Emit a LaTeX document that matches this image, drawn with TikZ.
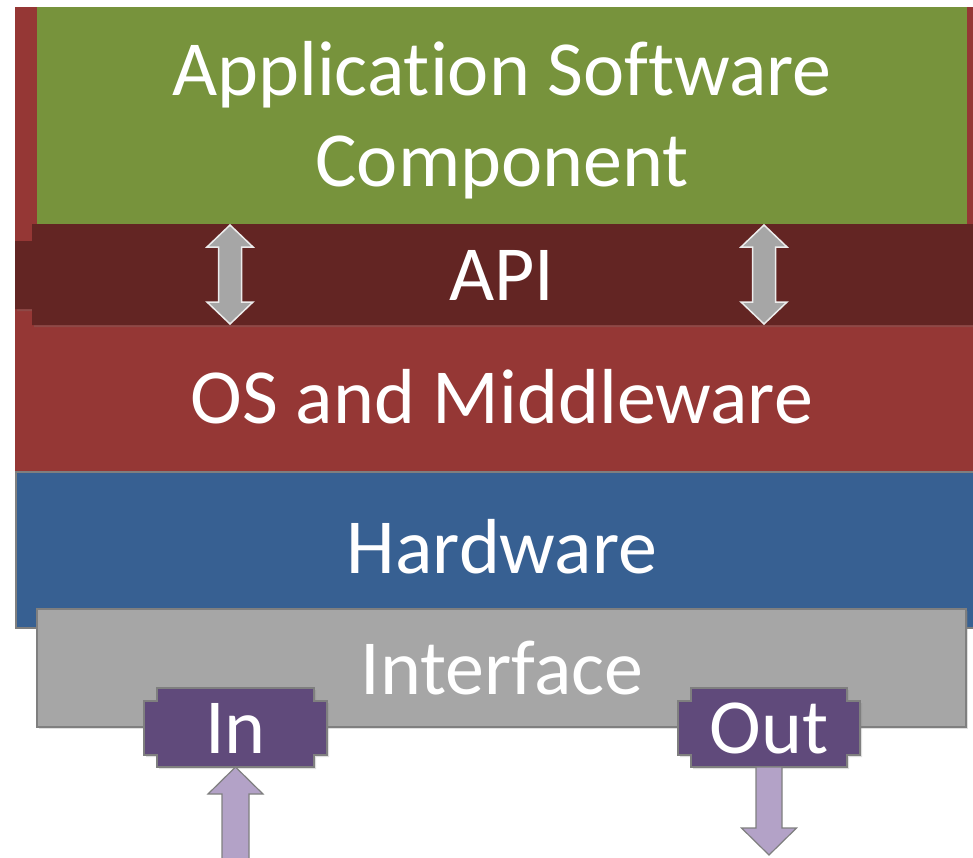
\documentclass[tikz,border=0pt]{standalone}
\usepackage{fontspec}
\setmainfont{Carlito}[Ligatures=NoCommon]
\usetikzlibrary{calc,shadows}
\definecolor{appgreen}{HTML}{77933C}
\definecolor{apired}{HTML}{632523}
\definecolor{osred}{HTML}{953735}
\definecolor{hwblue}{HTML}{376092}
\definecolor{ifgray}{HTML}{A6A6A6}
\definecolor{edgegray}{HTML}{7F7F7F}
\definecolor{iopurple}{HTML}{604A7B}
\definecolor{iolilac}{HTML}{B3A2C7}
\definecolor{apiarrow}{HTML}{A6A6A6}
\tikzset{
  layer/.style={rectangle, inner sep=0pt, outer sep=0pt},
  txt/.style={text=white, font=\fontsize{78}{91}\selectfont, inner sep=0pt, anchor=base, align=center},
  softshadow/.style={drop shadow={shadow xshift=2pt, shadow yshift=-2pt, opacity=.25}},
  iobox/.style={fill=iopurple, draw=edgegray, line width=1.2pt, softshadow},
  ioarrow/.style={fill=iolilac, draw=edgegray, line width=1.2pt},
  apiarr/.style={fill=apiarrow, draw=white!85!gray, line width=1.5pt},
}
\begin{document}
\begin{tikzpicture}[x=1pt,y=-1pt]
\useasboundingbox (0,0) rectangle (973,857);

% OS and middleware layer (sits behind the application and API)
\node[layer, fill=osred, minimum width=975pt, minimum height=465pt] (os) at (502.5,239.5) {};
% application software component
\node[layer, fill=appgreen, minimum width=930pt, minimum height=217pt] (app) at (502,115.5) {};

% API band with a side tab
\node[layer, minimum width=958pt, minimum height=101pt] (api) at (511,274.5) {};
\fill[apired, softshadow] (api.north west) -- (api.north east) -- (api.south east) -- (api.south west)
  -- ++(0,-16) -- ++(-17,0) -- ++(0,-68) -- ++(17,0) -- cycle;

% two-way arrows through the API
\coordinate (apiL) at ($(app.south)+(-272,1)$);
\coordinate (apiR) at ($(app.south)+(262,1)$);
\foreach \c in {apiL,apiR}
  \draw[apiarr] (\c) -- ++(23,22) -- ++(-11.5,0) -- ++(0,55) -- ++(11.5,0) -- ++(-23,22)
    -- ++(-23,-22) -- ++(11.5,0) -- ++(0,-55) -- ++(-11.5,0) -- cycle;

% hardware layer
\node[layer, fill=hwblue, draw=edgegray, line width=1.2pt, minimum width=974pt, minimum height=156pt] (hw) at (503,550) {};
% interface layer
\node[layer, fill=ifgray, draw=edgegray, line width=1.2pt, minimum width=929pt, minimum height=118pt, softshadow] (if) at (501.5,668) {};

% input and output ports with side tabs
\node[layer, minimum width=157pt, minimum height=79pt] (in) at (235.5,727.5) {};
\node[layer, minimum width=156pt, minimum height=79pt] (out) at (769,727.5) {};
\foreach \p in {in,out}
  \path[iobox] (\p.north west) -- (\p.north east) -- ++(0,13) -- ++(13,0) -- ++(0,54) -- ++(-13,0)
    -- (\p.south east) -- (\p.south west) -- ++(0,-12) -- ++(-13,0) -- ++(0,-54) -- ++(13,0) -- cycle;

% signal arrows into and out of the ports
\draw[ioarrow] (in.south) -- ++(27.5,27) -- ++(-14,0) -- ++(0,70) -- ++(-27,0) -- ++(0,-70) -- ++(-14,0) -- cycle;
\draw[ioarrow] ($(out.south)+(-13,0)$) -- ++(26,0) -- ++(0,61) -- ++(14.5,0) -- ++(-27.5,27)
  -- ++(-27.5,-27) -- ++(14.5,0) -- cycle;

% labels (a two-line node's base is its last line)
\node[txt] (appT) at (502,186) {Application Software\\Component};
\node[txt] (apiT) at (502,300) {API};
\node[txt] (osT) at (502,423) {OS and Middleware};
\node[txt] (hwT) at (502,573) {Hardware};
\node[txt] (ifT) at (502,694) {Interface};
\node[txt] (inT) at (235.5,753) {In};
\node[txt] (outT) at (769,753) {Out};
\end{tikzpicture}
\end{document}
